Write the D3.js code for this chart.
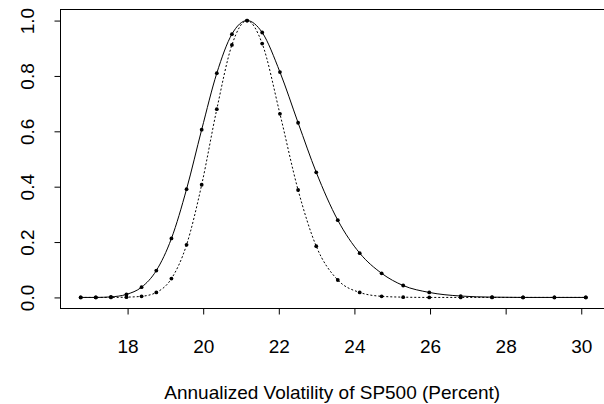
<!DOCTYPE html>
<html>
<head>
<meta charset="utf-8">
<script src="https://cdn.jsdelivr.net/npm/d3@7"></script>
<style>
  html, body { margin: 0; padding: 0; background: #fff; }
  svg { display: block; }
  text { font-family: "Liberation Sans", Arial, Helvetica, sans-serif; fill: #000; }
</style>
</head>
<body>
<svg id="chart" width="604" height="404"></svg>
<script>
// ---- data ----
const volatility = [16.76, 17.16, 17.56, 17.97, 18.37, 18.76, 19.16, 19.56, 19.96, 20.36, 20.76, 21.16, 21.56,
                    22.03, 22.51, 22.99, 23.56, 24.14, 24.72, 25.29, 25.98, 26.81, 27.64, 28.46, 29.29, 30.12];
const solidSeries = [0, 0, 0.002, 0.011, 0.037, 0.097, 0.213, 0.391, 0.606, 0.810, 0.951, 1.0, 0.957,
                     0.814, 0.631, 0.452, 0.279, 0.160, 0.087, 0.043, 0.018, 0.005, 0.001, 0, 0, 0];
const dottedSeries = [0, 0, 0, 0.001, 0.004, 0.018, 0.068, 0.190, 0.407, 0.680, 0.912, 1.0, 0.917,
                      0.663, 0.388, 0.185, 0.063, 0.018, 0.004, 0.001, 0, 0, 0, 0, 0, 0];
const xTicks = [18, 20, 22, 24, 26, 28, 30];
const yTicks = [0, 0.2, 0.4, 0.6, 0.8, 1.0];
const xLabel = "Annualized Volatility of SP500 (Percent)";

// ---- layout ----
const svg = d3.select("#chart");
const pLeft = 60.5, pRight = 606, pTop = 9.5, pBottom = 308.5;
const fs = 19;

// R-style 4% padding on data range
const xmin = d3.min(volatility), xmax = d3.max(volatility);
const xpad = (xmax - xmin) * 0.04;
const x = d3.scaleLinear().domain([xmin - xpad, xmax + xpad]).range([pLeft, pRight]);
const y = d3.scaleLinear().domain([-0.04, 1.04]).range([pBottom, pTop]);

// box
svg.append("rect")
  .attr("x", pLeft).attr("y", pTop)
  .attr("width", pRight - pLeft).attr("height", pBottom - pTop)
  .attr("fill", "none").attr("stroke", "#000").attr("stroke-width", 1);

// x axis
const xAxis = d3.axisBottom(x).tickValues(xTicks).tickSize(6).tickPadding(0).tickFormat(d3.format("d"));
const gx = svg.append("g").attr("transform", `translate(0,${pBottom})`).call(xAxis);
gx.select(".domain").attr("d", `M${x(xTicks[0])},0H${x(xTicks[xTicks.length-1])}`).attr("stroke", "#000");
gx.selectAll(".tick line").attr("stroke", "#000");
gx.selectAll(".tick text")
  .attr("y", 353 - pBottom).attr("dy", null)
  .style("font-size", fs + "px")
  .style("font-family", '"Liberation Sans", Arial, sans-serif');

// y axis
const yAxis = d3.axisLeft(y).tickValues(yTicks).tickSize(6).tickFormat(d3.format(".1f"));
const gy = svg.append("g").attr("transform", `translate(${pLeft},0)`).call(yAxis);
gy.select(".domain").attr("d", `M0,${y(0)}V${y(1)}`).attr("stroke", "#000");
gy.selectAll(".tick line").attr("stroke", "#000");
gy.selectAll(".tick text")
  .attr("x", null).attr("dy", null)
  .attr("text-anchor", "middle")
  .attr("transform", `translate(${34 - pLeft},0) rotate(-90)`)
  .style("font-size", fs + "px")
  .style("font-family", '"Liberation Sans", Arial, sans-serif');

// x title
svg.append("text")
  .attr("x", (pLeft + pRight) / 2 - 1).attr("y", 398.5)
  .attr("text-anchor", "middle")
  .style("font-size", fs + "px")
  .text(xLabel);

// clip to plot box
svg.append("clipPath").attr("id", "plotclip")
  .append("rect").attr("x", pLeft).attr("y", pTop).attr("width", pRight - pLeft).attr("height", pBottom - pTop);

const plot = svg.append("g").attr("clip-path", "url(#plotclip)");

const solidData = volatility.map((v, i) => [v, solidSeries[i]]);
const dottedData = volatility.map((v, i) => [v, dottedSeries[i]]);

const line = d3.line().x(d => x(d[0])).y(d => y(d[1])).curve(d3.curveMonotoneX);

plot.append("path").datum(dottedData)
  .attr("d", line).attr("fill", "none").attr("stroke", "#000")
  .attr("stroke-width", 1).attr("stroke-dasharray", "2,2");

plot.append("path").datum(solidData)
  .attr("d", line).attr("fill", "none").attr("stroke", "#000")
  .attr("stroke-width", 1);

plot.selectAll("circle.dotted").data(dottedData).join("circle")
  .attr("class", "dotted")
  .attr("cx", d => x(d[0])).attr("cy", d => y(d[1])).attr("r", 1.9).attr("fill", "#000");

plot.selectAll("circle.solid").data(solidData).join("circle")
  .attr("class", "solid")
  .attr("cx", d => x(d[0])).attr("cy", d => y(d[1])).attr("r", 1.9).attr("fill", "#000");
</script>
</body>
</html>
